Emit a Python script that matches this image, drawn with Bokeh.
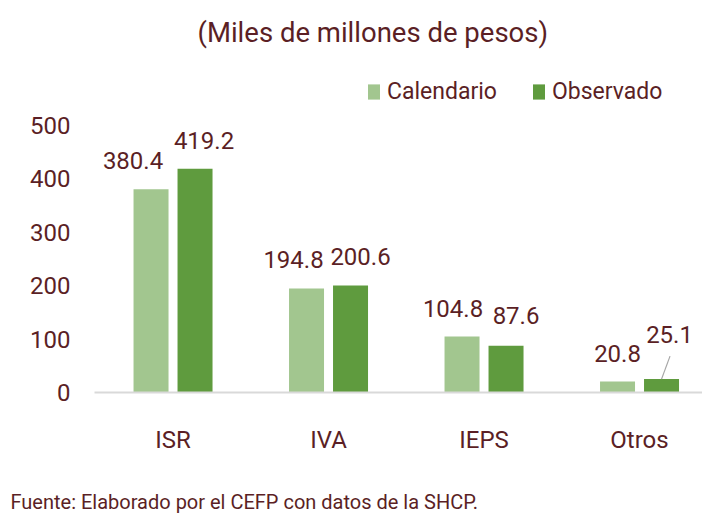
from bokeh.plotting import figure
from bokeh.models import (ColumnDataSource, Range1d, FixedTicker, LabelSet,
                          Legend, LegendItem, Title)
from bokeh.embed import file_html
from bokeh.resources import INLINE
from bokeh.core.properties import value

# ---- data ----
categories = ["ISR", "IVA", "IEPS", "Otros"]
calendario = [380.4, 194.8, 104.8, 20.8]
observado = [419.2, 200.6, 87.6, 25.1]
series_names = ["Calendario", "Observado"]
y_ticks = [0, 100, 200, 300, 400, 500]
title_text = "(Miles de millones de pesos)"
source_text = "Fuente: Elaborado por el CEFP con datos de la SHCP."

# ---- style ----
FONT = "Roboto"
TEXT = "#5b1f25"
LIGHT = "#a2c68f"
DARK = "#5f9b3e"

# data-label nudges in screen pixels (as placed in the original)
label_dx_cal = [-18, -13, -9, 0]
label_dx_obs = [9, 10, 10, 8]
label_dy_cal = [20, 20, 20, 19]
label_dy_obs = [20, 20, 22, 36]

W, H = 702, 513
LEFT, TOP, BOTTOM = 94, 60, 121
FRAME_W = W - LEFT
FRAME_H = H - TOP - BOTTOM
PX_PER_CAT = 155.5
PX_PER_UNIT = 0.534
X0 = -0.505
X1 = X0 + FRAME_W / PX_PER_CAT
Y1 = FRAME_H / PX_PER_UNIT

BAR_W = 35 / PX_PER_CAT
DODGE = 22 / PX_PER_CAT

idx = list(range(len(categories)))
src_cal = ColumnDataSource(dict(
    x=[i - DODGE for i in idx], y=calendario,
    t=[f"{v:.1f}" for v in calendario],
    dx=label_dx_cal, dy=label_dy_cal))
src_obs = ColumnDataSource(dict(
    x=[i + DODGE for i in idx], y=observado,
    t=[f"{v:.1f}" for v in observado],
    dx=label_dx_obs, dy=label_dy_obs))

p = figure(width=W, height=H, output_backend="svg", toolbar_location=None,
           x_range=Range1d(X0, X1), y_range=Range1d(0, Y1),
           min_border_left=LEFT, min_border_top=TOP, min_border_bottom=BOTTOM,
           min_border_right=0)
p.outline_line_color = None
p.xgrid.visible = False
p.ygrid.visible = False

r_cal = p.vbar(x="x", top="y", width=BAR_W, source=src_cal,
               fill_color=LIGHT, line_color=None)
r_obs = p.vbar(x="x", top="y", width=BAR_W, source=src_obs,
               fill_color=DARK, line_color=None)

# leader line for the raised label
k = len(observado) - 1
p.segment(x0=[idx[k] + DODGE], y0=[observado[k]],
          x1=[idx[k] + DODGE + 8.5 / PX_PER_CAT], y1=[observado[k] + 23 / PX_PER_UNIT],
          line_color="#a6a6a6", line_width=1.2)

for src in (src_cal, src_obs):
    p.add_layout(LabelSet(x="x", y="y", text="t", source=src,
                          x_offset="dx", y_offset="dy",
                          text_align="center", text_baseline="alphabetic",
                          text_font=value(FONT), text_font_size="24px",
                          text_color=TEXT))

# axes
p.yaxis.ticker = FixedTicker(ticks=y_ticks)
p.yaxis.axis_line_color = None
p.yaxis.major_tick_line_color = None
p.yaxis.minor_tick_line_color = None
p.yaxis.major_tick_out = 0
p.yaxis.major_tick_in = 0
p.yaxis.major_label_standoff = 24
p.yaxis.major_label_text_font = FONT
p.yaxis.major_label_text_font_size = "24px"
p.yaxis.major_label_text_color = TEXT

p.xaxis.ticker = FixedTicker(ticks=idx)
p.xaxis.major_label_overrides = {i: c for i, c in zip(idx, categories)}
p.xaxis.axis_line_color = "#d9d9d9"
p.xaxis.axis_line_width = 2
p.xaxis.major_tick_line_color = None
p.xaxis.minor_tick_line_color = None
p.xaxis.major_tick_out = 0
p.xaxis.major_tick_in = 0
p.xaxis.major_label_standoff = 33
p.xaxis.major_label_text_font = FONT
p.xaxis.major_label_text_font_size = "24px"
p.xaxis.major_label_text_color = TEXT

# legend
legend = Legend(items=[LegendItem(label=series_names[0], renderers=[r_cal]),
                       LegendItem(label=series_names[1], renderers=[r_obs])],
                orientation="horizontal", location=(272, 287),
                glyph_width=15, glyph_height=19, label_standoff=6, spacing=34,
                padding=0, margin=0, border_line_color=None,
                background_fill_alpha=0,
                label_text_font=FONT, label_text_font_size="23px",
                label_text_color=TEXT)
p.add_layout(legend)

# title and source note
p.title = Title(text=title_text, align="left", offset=103, standoff=24,
                text_font=FONT, text_font_size="27.5px", text_font_style="normal",
                text_color=TEXT)
p.add_layout(Title(text=" ", align="left", standoff=28,
                   text_font=FONT, text_font_size="1px"), "below")
p.add_layout(Title(text=source_text, align="left", offset=-84, standoff=0,
                   text_font=FONT, text_font_size="20px", text_font_style="normal",
                   text_color=TEXT), "below")

open("out.html", "w").write(file_html(p, INLINE))
